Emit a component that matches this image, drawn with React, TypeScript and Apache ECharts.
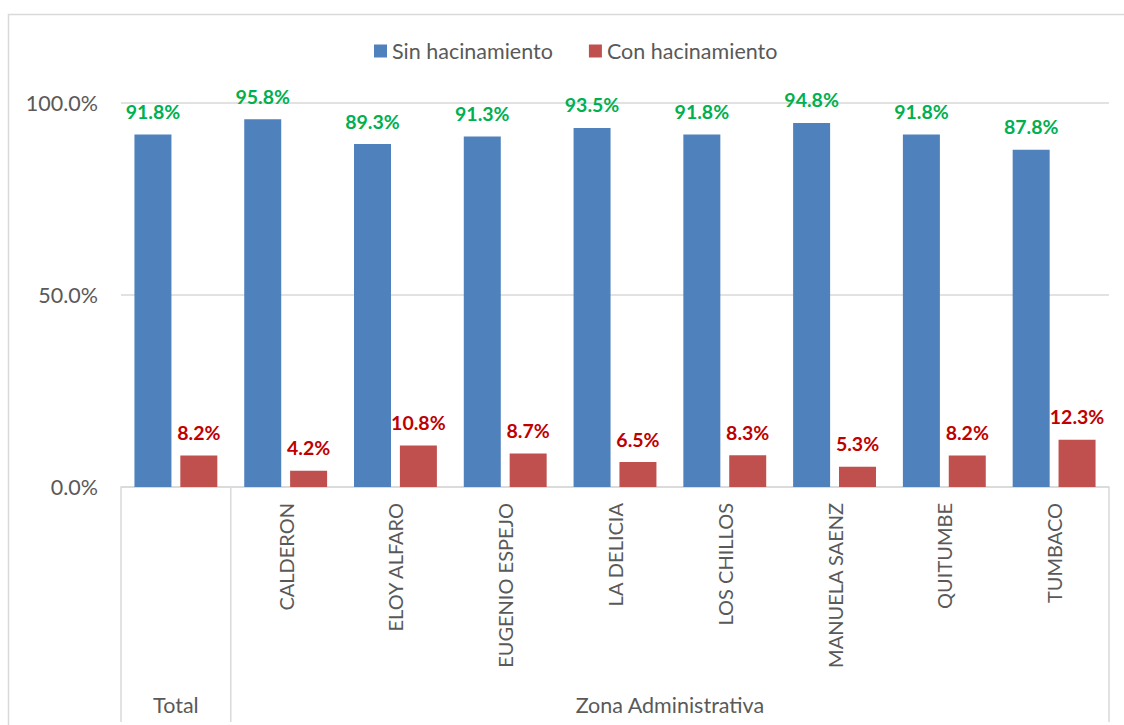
import React, { useEffect, useRef } from "react";
import * as echarts from "echarts";

const categories = [
  "Total",
  "CALDERON",
  "ELOY ALFARO",
  "EUGENIO ESPEJO",
  "LA DELICIA",
  "LOS CHILLOS",
  "MANUELA SAENZ",
  "QUITUMBE",
  "TUMBACO",
];
const sinHacinamiento = [91.8, 95.8, 89.3, 91.3, 93.5, 91.8, 94.8, 91.8, 87.8];
const conHacinamiento = [8.2, 4.2, 10.8, 8.7, 6.5, 8.3, 5.3, 8.2, 12.3];
const seriesNames = ["Sin hacinamiento", "Con hacinamiento"];
const groupLabels = ["Total", "Zona Administrativa"];

const FONT = "Lato";
const AXIS_COLOR = "#595959";
const LINE_COLOR = "#D9D9D9";

export default function App() {
  const ref = useRef<HTMLDivElement>(null);

  useEffect(() => {
    if (!ref.current) return;
    const chart = echarts.init(ref.current, null, { renderer: "svg" });
    const labelStyle = (color: string) => ({
      show: true,
      position: "top" as const,
      distance: 13,
      color,
      fontFamily: FONT,
      fontWeight: "bold" as const,
      fontSize: 19.5,
      formatter: (p: any) => `${Number(p.value).toFixed(1)}%`,
    });
    chart.setOption({
      animation: false,
      backgroundColor: "#ffffff",
      textStyle: { fontFamily: FONT },
      legend: {
        data: seriesNames,
        left: 369,
        top: 35,
        icon: "rect",
        itemWidth: 13,
        itemHeight: 13,
        itemGap: 36,
        textStyle: { color: AXIS_COLOR, fontSize: 21.5, fontFamily: FONT },
      },
      grid: { left: 121, right: 15, top: 103, bottom: 238, containLabel: false },
      xAxis: {
        type: "category",
        data: categories,
        axisLine: { show: true, lineStyle: { color: LINE_COLOR, width: 1.5 } },
        axisTick: { show: false },
        axisLabel: {
          rotate: 90,
          margin: 16,
          interval: 0,
          color: AXIS_COLOR,
          fontFamily: FONT,
          fontSize: 20,
          formatter: (v: string, i: number) => (i === 0 ? "" : v),
        },
      },
      yAxis: {
        type: "value",
        min: 0,
        max: 100,
        interval: 50,
        axisLine: { show: false },
        axisTick: { show: false },
        splitLine: { lineStyle: { color: LINE_COLOR, width: 1.5 } },
        axisLabel: {
          margin: 23,
          color: AXIS_COLOR,
          fontFamily: FONT,
          fontSize: 21.5,
          formatter: (v: number) => `${v.toFixed(1)}%`,
        },
      },
      series: [
        {
          name: seriesNames[0],
          type: "bar",
          data: sinHacinamiento,
          barWidth: 37,
          barGap: "24%",
          itemStyle: { color: "#4F81BD" },
          label: labelStyle("#00B050"),
        },
        {
          name: seriesNames[1],
          type: "bar",
          data: conHacinamiento,
          barWidth: 37,
          barGap: "24%",
          itemStyle: { color: "#C0504D" },
          label: labelStyle("#C00000"),
        },
      ],
    });

    const cx = (i: number) => chart.convertToPixel({ xAxisIndex: 0 }, i) as number;
    const c0 = cx(0);
    const band = cx(1) - c0;
    const y0 = chart.convertToPixel({ yAxisIndex: 0 }, 0) as number;
    const leftB = c0 - band / 2;
    const divB = c0 + band / 2;
    const rightB = cx(categories.length - 1) + band / 2;
    const bottomY = 722;
    const vline = (x: number) => ({
      type: "line",
      shape: { x1: x, y1: y0, x2: x, y2: bottomY },
      style: { stroke: LINE_COLOR, lineWidth: 1.5 },
      silent: true,
    });
    const groupText = (text: string, x: number) => ({
      type: "text",
      x,
      y: 705,
      style: {
        text,
        fill: AXIS_COLOR,
        font: `21.5px ${FONT}`,
        align: "center",
        verticalAlign: "middle",
      },
      silent: true,
    });
    chart.setOption({
      graphic: [
        {
          type: "rect",
          shape: { x: 8.5, y: 14.5, width: 1200, height: 800 },
          style: { fill: "none", stroke: LINE_COLOR, lineWidth: 1.5 },
          silent: true,
          z: -1,
        },
        vline(leftB),
        vline(divB),
        vline(rightB),
        groupText(groupLabels[0], c0),
        groupText(groupLabels[1], (divB + rightB) / 2),
      ],
    });

    return () => chart.dispose();
  }, []);

  return (
    <div
      ref={ref}
      style={{ position: "fixed", left: 0, top: 0, width: 1124, height: 725 }}
    />
  );
}
